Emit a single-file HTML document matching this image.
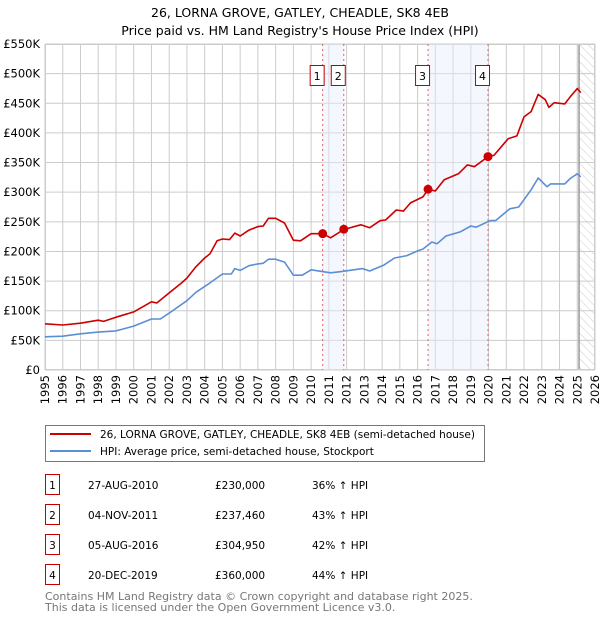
<!DOCTYPE html>
<html><head><meta charset="utf-8"><style>
body{margin:0;background:#fff;width:600px;height:620px;overflow:hidden;font-family:"DejaVu Sans","Liberation Sans",sans-serif}
</style></head><body>
<svg id="chart" width="600" height="620" xmlns="http://www.w3.org/2000/svg" font-family="DejaVu Sans, Liberation Sans, sans-serif">
<text x="300" y="17" text-anchor="middle" font-size="12.5">26, LORNA GROVE, GATLEY, CHEADLE, SK8 4EB</text>
<text x="300" y="35" text-anchor="middle" font-size="12.5">Price paid vs. HM Land Registry's House Price Index (HPI)</text>
<defs><pattern id="hatch" width="6" height="6" patternUnits="userSpaceOnUse" patternTransform="rotate(-45)"><line x1="0" y1="0" x2="0" y2="6" stroke="#ccc" stroke-width="1"/></pattern></defs>
<g id="grid"></g><g id="bands"></g><g id="lines"></g><g id="marks"></g><g id="axes"></g>
<g>
<rect x="45.5" y="425.5" width="439" height="36" fill="#fff" stroke="#777"/>
<line x1="50" y1="434" x2="91" y2="434" stroke="#cc0000" stroke-width="2"/>
<text x="100" y="438" font-size="10.5">26, LORNA GROVE, GATLEY, CHEADLE, SK8 4EB (semi-detached house)</text>
<line x1="50" y1="451" x2="91" y2="451" stroke="#5b8fd4" stroke-width="2"/>
<text x="100" y="455" font-size="10.5">HPI: Average price, semi-detached house, Stockport</text>
</g>
<g id="table" font-size="10.5"></g>
<text font-size="11" fill="#777"><tspan x="45" y="600">Contains HM Land Registry data © Crown copyright and database right 2025.</tspan><tspan x="45" y="611">This data is licensed under the Open Government Licence v3.0.</tspan></text>
</svg>
<script>
const hpiYears=[1995,1996,1997,1998,1999,2000,2001,2001.5,2002,2003,2003.5,2004,2004.3,2005,2005.5,2005.7,2006,2006.5,2007,2007.3,2007.6,2008,2008.5,2009,2009.5,2010,2011.1,2011.7,2012.9,2013.3,2014.1,2014.7,2015.4,2016,2016.3,2016.8,2017.1,2017.6,2018.4,2019,2019.3,2020.1,2020.4,2021.2,2021.7,2022.4,2022.8,2023.3,2023.5,2024.3,2024.6,2025,2025.2];
const hpiValues=[56,57,61,64,66,74,86,86,96,117,131,141,147,162,162,171,168,176,179,180,187,187,182,160,160,169,164,166,171,167,177,189,193,201,204,216,213,226,233,243,241,252,252,272,275,304,324,309,314,314,323,331,326];
const priceYears=[1995,1996,1997,1998,1998.3,1999,2000,2001,2001.3,2002,2002.7,2003,2003.5,2004,2004.3,2004.7,2005,2005.4,2005.7,2006,2006.5,2007,2007.3,2007.6,2008,2008.5,2009,2009.4,2010,2010.65,2011.1,2011.84,2012.8,2013.3,2013.9,2014.2,2014.8,2015.2,2015.6,2016.3,2016.6,2017,2017.5,2018.3,2018.8,2019.2,2019.97,2020.3,2021.1,2021.6,2022,2022.4,2022.8,2023.2,2023.4,2023.7,2024.3,2024.6,2025,2025.2];
const priceValues=[78,76,79,84,82,89,98,115,113,130,147,155,174,189,196,218,221,220,231,226,236,242,243,256,256,248,219,218,230,230,223,237,245,240,252,253,270,268,282,292,305,302,321,331,346,343,360,362,390,395,427,436,465,456,443,451,449,461,475,468];
const saleLabels=["1","2","3","4"];
const saleYears=[2010.65,2011.84,2016.59,2019.97];
const saleValues=[230,237.46,304.95,360];
const saleDates=["27-AUG-2010","04-NOV-2011","05-AUG-2016","20-DEC-2019"];
const salePrices=["£230,000","£237,460","£304,950","£360,000"];
const saleDiffs=["36% ↑ HPI","43% ↑ HPI","42% ↑ HPI","44% ↑ HPI"];
const yTicks=[0,50,100,150,200,250,300,350,400,450,500,550];
const xTicks=[];for(let y=1995;y<=2026;y++)xTicks.push(y);

const X0=45,X1=595,Y0=370,Y1=44;
const sx=y=>X0+(y-1995)/(2026-1995)*(X1-X0);
const sy=v=>Y0-v/550*(Y0-Y1);
const NS="http://www.w3.org/2000/svg";
function mk(tag,attrs,parent){const e=document.createElementNS(NS,tag);for(const k in attrs)e.setAttribute(k,attrs[k]);document.getElementById(parent).appendChild(e);return e;}

mk('rect',{x:X0,y:Y1,width:X1-X0,height:Y0-Y1,fill:'#fff'},'grid');
const hatchX=sx(2025.1);
xTicks.forEach(t=>{const l=mk('line',{x1:sx(t),x2:sx(t),y1:Y1,y2:Y0,stroke:'#ccc'},'grid');

});
yTicks.forEach(t=>{const l=mk('line',{x1:X0,x2:X1,y1:sy(t),y2:sy(t),stroke:'#ccc'},'grid');

});
const hr=mk('rect',{x:hatchX,y:Y1,width:X1-hatchX,height:Y0-Y1,fill:'url(#hatch)'},'grid');


mk('line',{x1:hatchX,x2:hatchX,y1:Y1,y2:Y0,stroke:'#999','stroke-width':1.5},'grid');
mk('rect',{x:X0+.5,y:Y1+.5,width:X1-X0-1,height:Y0-Y1-1,fill:'none',stroke:'#ccc'},'grid');

[[0,1],[2,3]].forEach(p=>{const b=mk('rect',{x:sx(saleYears[p[0]]),y:Y1,width:sx(saleYears[p[1]])-sx(saleYears[p[0]]),height:Y0-Y1,fill:'#e6eefb','fill-opacity':0.45},'bands');

});
saleYears.forEach((y,i)=>{const l=mk('line',{x1:sx(y),x2:sx(y),y1:Y1,y2:Y0,stroke:'#e06060','stroke-dasharray':'2,3'},'bands');


const r=mk('rect',{x:sx(y)-12.5,y:65.5,width:14,height:20,fill:'#fff',stroke:'#c00000'},'marks');


const t=mk('text',{x:sx(y)-5.5,y:80,'text-anchor':'middle','font-size':11},'marks');t.textContent=saleLabels[i];});

function path(xs,vs,col,name){const d=xs.map((x,i)=>(i?'L':'M')+sx(x).toFixed(1)+','+sy(vs[i]).toFixed(1)).join('');
const p=mk('path',{d:d,fill:'none',stroke:col,'stroke-width':1.6,'stroke-linejoin':'round'},'lines');

}
path(hpiYears,hpiValues,'#5b8fd4','hpi-line');
path(priceYears,priceValues,'#cc0000','price-line');
saleYears.forEach((y,i)=>{const c=mk('circle',{cx:sx(y),cy:sy(saleValues[i]),r:4.5,fill:'#cc0000'},'lines');

});

yTicks.forEach(t=>{const e=mk('text',{x:40,y:sy(t)+4,'text-anchor':'end','font-size':11.5},'axes');e.textContent=t?'£'+t+'K':'£0';

});
xTicks.forEach(t=>{const e=mk('text',{x:0,y:0,'text-anchor':'end','font-size':11.5,transform:`translate(${sx(t)+4},375) rotate(-90)`},'axes');e.textContent=t;

});

saleLabels.forEach((s,i)=>{const cy=485+i*30;
const r=mk('rect',{x:45.5,y:cy-10.5,width:14,height:20,fill:'#fff',stroke:'#c00000'},'table');


const vals=[[52.5,s,'middle'],[88,saleDates[i],'start'],[215,salePrices[i],'start'],[312,saleDiffs[i],'start']];
vals.forEach(v=>{const t=mk('text',{x:v[0],y:cy+4,'text-anchor':v[2]},'table');t.textContent=v[1];

});});
</script>
</body></html>
